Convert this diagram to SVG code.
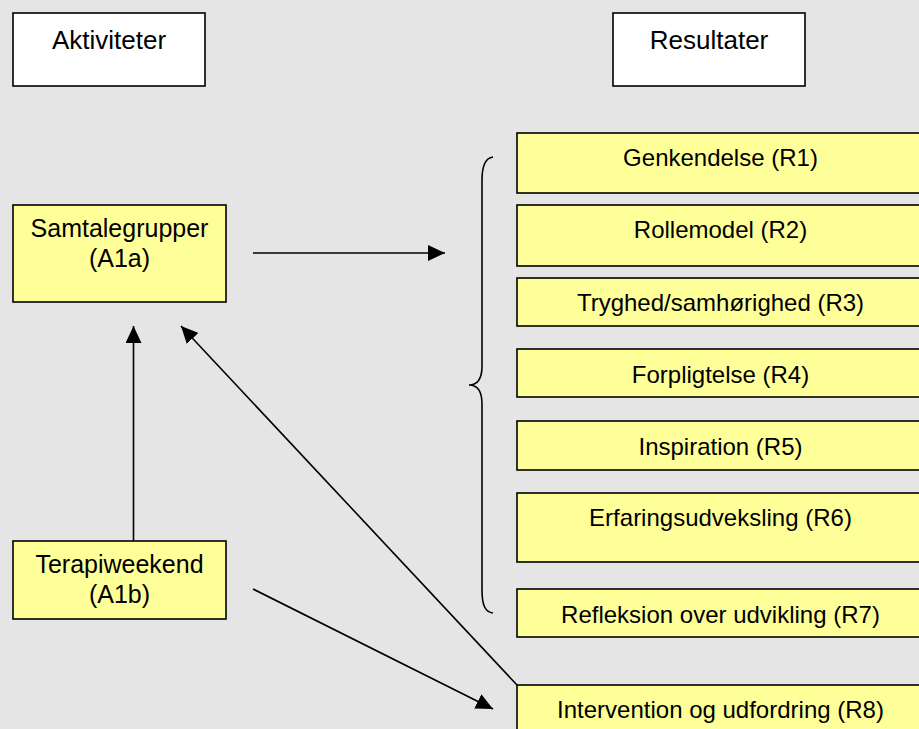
<svg xmlns="http://www.w3.org/2000/svg" width="919" height="729" viewBox="0 0 919 729">
<defs>
<style>
.hdr{fill:#ffffff;stroke:#000;stroke-width:1.6}
.box{fill:#ffff99;stroke:#000;stroke-width:1.6}
text{font-family:"Liberation Sans",Arial,sans-serif;fill:#000;text-anchor:middle}
.t26{font-size:26px}
.t25{font-size:25px}
.t24{font-size:24px}
.conn{stroke:#000;stroke-width:1.6;fill:none}
</style>
<marker id="arr" markerUnits="userSpaceOnUse" markerWidth="18" markerHeight="16" refX="17" refY="8" orient="auto">
<path d="M0,0 L17,8 L0,16 Z" fill="#000"/>
</marker>
</defs>
<rect x="0" y="0" width="919" height="729" fill="#e5e5e5"/>
<g id="aktiviteter"><rect class="hdr" x="13" y="13" width="192" height="73"/><text class="t26" x="109" y="49">Aktiviteter</text></g>
<g id="resultater"><rect class="hdr" x="613" y="13" width="192" height="73"/><text class="t26" x="709" y="49">Resultater</text></g>
<g id="A1a"><rect class="box" x="13" y="205" width="213" height="97"/><text class="t25" x="119.5" y="237">Samtalegrupper</text><text class="t25" x="119.5" y="267">(A1a)</text></g>
<g id="A1b"><rect class="box" x="13" y="541" width="213" height="78"/><text class="t25" x="119.5" y="573">Terapiweekend</text><text class="t25" x="119.5" y="603">(A1b)</text></g>
<g id="R1"><rect class="box" x="517" y="133" width="410" height="60"/><text class="t24" x="720.5" y="166">Genkendelse (R1)</text></g>
<g id="R2"><rect class="box" x="517" y="205" width="410" height="61"/><text class="t24" x="720.5" y="238">Rollemodel (R2)</text></g>
<g id="R3"><rect class="box" x="517" y="278" width="410" height="48"/><text class="t24" x="720.5" y="311">Tryghed/samhørighed (R3)</text></g>
<g id="R4"><rect class="box" x="517" y="349" width="410" height="48"/><text class="t24" x="720.5" y="383">Forpligtelse (R4)</text></g>
<g id="R5"><rect class="box" x="517" y="421" width="410" height="49"/><text class="t24" x="720.5" y="455">Inspiration (R5)</text></g>
<g id="R6"><rect class="box" x="517" y="493" width="410" height="69"/><text class="t24" x="720.5" y="526">Erfaringsudveksling (R6)</text></g>
<g id="R7"><rect class="box" x="517" y="589" width="410" height="48"/><text class="t24" x="720.5" y="623">Refleksion over udvikling (R7)</text></g>
<g id="R8"><rect class="box" x="517" y="685" width="410" height="60"/><text class="t24" x="720.5" y="718">Intervention og udfordring (R8)</text></g>
<g id="brace"><path class="conn" d="M493,157 C485,158 482,166 482,180 L482,366 C482,379 477,385 469,385 C477,385 482,391 482,404 L482,590 C482,605 485,612 493,613"/></g>
<g id="connectors">
<line class="conn" x1="253" y1="253" x2="445" y2="253" marker-end="url(#arr)"/>
<line class="conn" x1="133.5" y1="541" x2="133.5" y2="326" marker-end="url(#arr)"/>
<line class="conn" x1="253" y1="589" x2="493" y2="709" marker-end="url(#arr)"/>
<line class="conn" x1="517" y1="685" x2="181" y2="326" marker-end="url(#arr)"/>
</g>
</svg>
